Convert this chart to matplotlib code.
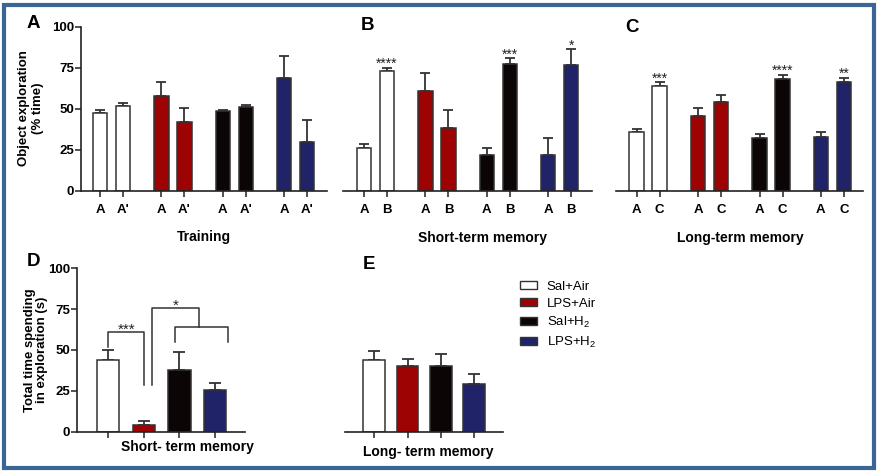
import matplotlib
matplotlib.use("Agg")
import matplotlib.pyplot as plt
from matplotlib.patches import Patch, Rectangle
import numpy as np

plt.rcParams['font.family'] = ['Liberation Sans', 'DejaVu Sans']
plt.rcParams['mathtext.fontset'] = 'custom'
plt.rcParams['mathtext.rm'] = 'Liberation Sans'
plt.rcParams['mathtext.it'] = 'Liberation Sans:italic'
plt.rcParams['mathtext.bf'] = 'Liberation Sans:bold'

# ---------------- data ----------------
groups = ['Sal+Air', 'LPS+Air', 'Sal+H$_2$', 'LPS+H$_2$']
colors = ['#ffffff', '#9d0303', '#0b0505', '#212368']

# Panel A (Training): objects A and A'
A_labels = ['A', "A'"]
A_first = [47.5, 57.5, 48.5, 69.0]
A_first_err = [2.0, 8.5, 1.0, 13.0]
A_second = [51.5, 42.0, 51.0, 30.0]
A_second_err = [2.0, 8.5, 1.0, 13.0]

# Panel B (Short-term memory): objects A and B
B_labels = ['A', 'B']
B_first = [26.0, 61.0, 22.0, 22.0]
B_first_err = [2.5, 11.0, 4.0, 10.0]
B_second = [73.0, 38.0, 77.0, 76.5]
B_second_err = [2.0, 11.0, 4.0, 10.0]
B_stars = ['****', '', '***', '*']

# Panel C (Long-term memory): objects A and C
C_labels = ['A', 'C']
C_first = [35.5, 45.5, 32.0, 33.0]
C_first_err = [2.3, 4.7, 2.6, 2.8]
C_second = [64.0, 54.0, 68.0, 66.5]
C_second_err = [2.0, 4.5, 2.7, 2.5]
C_stars = ['***', '', '****', '**']

# Panel D (total exploration, short-term)
D_vals = [44.0, 4.0, 38.0, 25.5]
D_err = [6.0, 2.5, 10.5, 4.0]
# Panel E (total exploration, long-term)
E_vals = [44.0, 40.5, 40.5, 29.5]
E_err = [6.0, 4.5, 7.5, 6.0]

# significance brackets in panel D: (x list, y list)
D_bracket1 = ([0, 0, 1, 1], [51.7, 61, 61, 28.6])
D_bracket2 = ([1.87, 1.87, 3.37, 3.37], [55, 64, 64, 55])
D_bracket3 = ([1.22, 1.22, 2.56, 2.56], [28.6, 75.7, 75.7, 64])
D_marks = [(0.5, 60.0, '***'), (1.89, 74.5, '*')]

yticks = [0, 25, 50, 75, 100]

# ---------------- figure ----------------
W, H = 877, 472
fig = plt.figure(figsize=(W / 100, H / 100), dpi=100)
fig.patch.set_facecolor('white')

def fx(p):
    return p / W

def fy(p):
    return 1 - p / H

def make_ax(L, R, y0, ytop):
    return fig.add_axes([L / W, 1 - y0 / H, (R - L) / W, (y0 - ytop) / H])

edge = '#333333'
spine_c = '#222222'

def style_ax(ax, left=True):
    ax.set_ylim(0, 100)
    for s in ['top', 'right']:
        ax.spines[s].set_visible(False)
    ax.spines['bottom'].set_color(spine_c)
    ax.spines['bottom'].set_linewidth(1.2)
    ax.spines['left'].set_color(spine_c)
    ax.spines['left'].set_linewidth(1.2)
    ax.tick_params(axis='x', length=4.5, width=1.1, color=spine_c, pad=5,
                   labelsize=9.5)
    if left:
        ax.set_yticks(yticks)
        ax.set_yticklabels([str(t) for t in yticks], fontweight='bold', fontsize=9.5)
        ax.tick_params(axis='y', length=4, width=1.1, color=spine_c, pad=1)
    else:
        ax.spines['left'].set_visible(False)
        ax.set_yticks([])
    ax.patch.set_alpha(0)

gstep = 2.67
bw = 0.63

def pair_panel(ax, first, ferr, second, serr, labels, stars=None):
    xs1 = np.arange(4) * gstep
    xs2 = xs1 + 1
    for i in range(4):
        for x, v, e in ((xs1[i], first[i], ferr[i]), (xs2[i], second[i], serr[i])):
            ax.bar(x, v, width=bw, color=colors[i], edgecolor=edge, linewidth=1.1, zorder=2)
            ax.errorbar(x, v, yerr=[[0], [e]], fmt='none', ecolor='#333333',
                        elinewidth=1.3, capsize=3.5, capthick=1.3, zorder=1)
        if stars and stars[i]:
            ax.text(xs2[i], second[i] + serr[i] - 0.3, stars[i], ha='center', va='baseline',
                    fontsize=10, color='#222222')
    ticks = np.ravel(np.column_stack([xs1, xs2]))
    ax.set_xticks(ticks)
    ax.set_xticklabels(labels * 4, fontweight='bold')

# Panel A
axA = make_ax(81, 327, 190.7, 26.7)
style_ax(axA, left=True)
axA.set_xlim((81 - 100) / 23, (327 - 100) / 23)
pair_panel(axA, A_first, A_first_err, A_second, A_second_err, A_labels)

# Panel B
axB = make_ax(343, 592, 190.7, 26.7)
style_ax(axB, left=False)
axB.set_xlim((343 - 364) / 23, (592 - 364) / 23)
pair_panel(axB, B_first, B_first_err, B_second, B_second_err, B_labels, B_stars)

# Panel C
axC = make_ax(616, 863, 190.7, 26.7)
style_ax(axC, left=False)
axC.set_xlim((616 - 636.7) / 23, (863 - 636.7) / 23)
pair_panel(axC, C_first, C_first_err, C_second, C_second_err, C_labels, C_stars)

def single_panel(ax, vals, errs, bwidth):
    xs = np.arange(4)
    for i in range(4):
        ax.bar(xs[i], vals[i], width=bwidth, color=colors[i], edgecolor=edge,
               linewidth=1.1, zorder=2)
        ax.errorbar(xs[i], vals[i], yerr=[[0], [errs[i]]], fmt='none', ecolor='#333333',
                    elinewidth=1.3, capsize=4, capthick=1.3, zorder=1)
    ax.set_xticks(xs)
    ax.set_xticklabels([])

# Panel D
axD = make_ax(77.3, 245, 431.7, 268.3)
style_ax(axD, left=True)
axD.set_xlim((77.3 - 108.3) / 35.6, (245 - 108.3) / 35.6)
single_panel(axD, D_vals, D_err, 0.62)
for bx, by in (D_bracket1, D_bracket2, D_bracket3):
    axD.plot(bx, by, color='#333333', lw=1.1, clip_on=False, zorder=3)
for mx, my, mt in D_marks:
    axD.text(mx, my, mt, ha='center', va='baseline', fontsize=11, color='#222222')

# Panel E
axE = make_ax(345, 503.3, 432.3, 269)
style_ax(axE, left=False)
axE.set_xlim((345 - 374.3) / 33.3, (503.3 - 374.3) / 33.3)
single_panel(axE, E_vals, E_err, 0.65)

# panel letters (baseline positions)
for lab, px, py in (('A', 33, 28.5), ('B', 367, 30), ('C', 632, 31.5), ('D', 33, 266.5), ('E', 369, 269)):
    fig.text(fx(px), fy(py), lab, fontsize=13.5, fontweight='bold', ha='center', va='baseline')

# titles (baseline positions)
for t, px, py in (('Training', 204, 241), ('Short-term memory', 482, 242),
                  ('Long-term memory', 740, 242), ('Short- term memory', 187, 451),
                  ('Long- term memory', 428, 456)):
    fig.text(fx(px), fy(py), t, fontsize=10, fontweight='bold', ha='center', va='baseline')

# y labels
fig.text(fx(31), fy(108), 'Object exploration\n(% time)', rotation=90, fontsize=9.5,
         fontweight='bold', ha='center', va='center', multialignment='center',
         linespacing=1.3)
fig.text(fx(36), fy(350), 'Total time spending\nin exploration (s)', rotation=90, fontsize=9.5,
         fontweight='bold', ha='center', va='center', multialignment='center',
         linespacing=1.0)

# legend
handles = [Patch(facecolor=c, edgecolor=edge, linewidth=1.0) for c in colors]
fig.legend(handles, groups, loc='upper left', bbox_to_anchor=(fx(513), fy(274)),
           frameon=False, fontsize=9.5, handlelength=1.35, handleheight=0.6,
           handletextpad=0.7, labelspacing=0.38, borderpad=0)

# outer frame
fig.patches.append(Rectangle((fx(4), fy(468)), fx(869.5), (468 - 4.5) / H,
                             transform=fig.transFigure, fill=False,
                             edgecolor='#3b6595', linewidth=3.0))

fig.savefig('out.png', dpi=100, facecolor='white')
